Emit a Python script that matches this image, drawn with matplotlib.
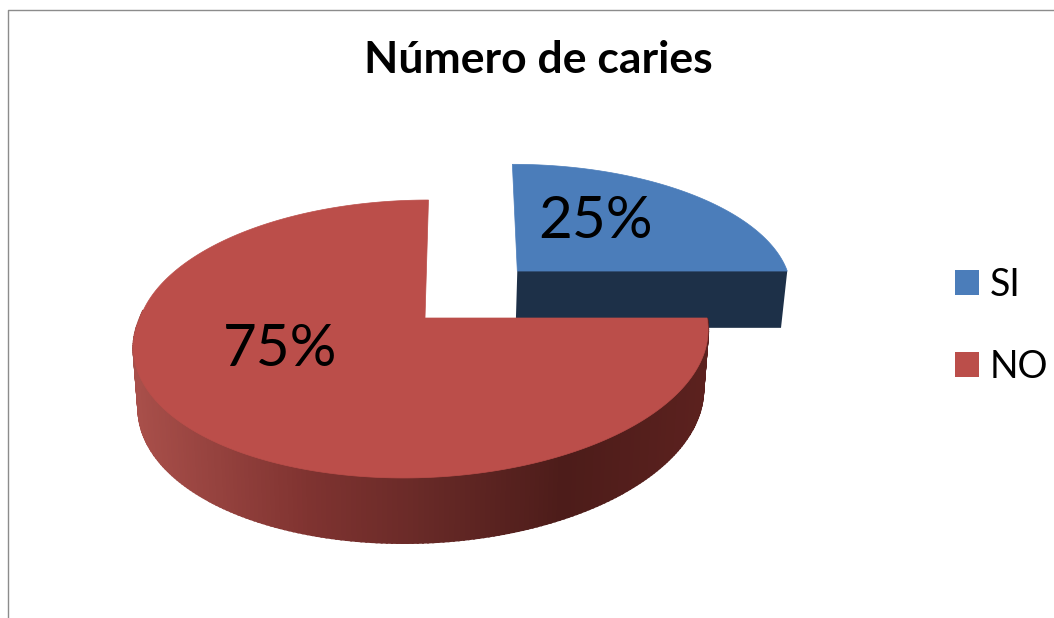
import numpy as np
import matplotlib
matplotlib.use("Agg")
import matplotlib.pyplot as plt
from matplotlib.patches import Polygon, Patch
from matplotlib.lines import Line2D

title = "Número de caries"
categories = ["SI", "NO"]
values = [25, 75]
labels = ["25%", "75%"]
colors_top = ["#4b7dba", "#bb4e4a"]
colors_side = ["#1d3048", "#7d322f"]

W, H = 1054, 618
plt.rcParams["font.family"] = ["Lato", "DejaVu Sans"]
fig = plt.figure(figsize=(W / 100, H / 100), dpi=100, facecolor="white")
ax = fig.add_axes([0, 0, 1, 1])
ax.set_xlim(0, W)
ax.set_ylim(H, 0)
ax.axis("off")

CX, CY, RX, RY, K = 425, 318, 282, 135.8, 0.151
SH_FRONT = 18
# explode u, explode v, width scale on the right, width scale on the left, back shear
GEOM = [(0.335, 0.365, 1.01, 1.01, 8), (0.0, 0.0, 1.0, 1.01, 4)]
BOTTOM_SHRINK = 0.983


def project(u, v, sh_back):
    w = 1 + K * v
    sh = np.where(v < 0, SH_FRONT, sh_back)
    return CX + (RX * u + sh * v) / w, CY - RY * v / w


def bottom(x, y, v):
    return 420 + (x - 420) * BOTTOM_SHRINK, y + 59 - 6 * v


def lerp(a, b, t):
    return tuple(a[i] + (b[i] - a[i]) * t for i in range(3))


RED_STOPS = [(0.0, (0.66, 0.31, 0.29)), (0.30, (0.50, 0.20, 0.19)),
             (0.52, (0.40, 0.16, 0.15)), (0.75, (0.30, 0.11, 0.10)),
             (1.0, (0.36, 0.13, 0.12))]


def red_shade(x):
    t = np.clip((x - 135) / (707 - 135), 0, 1)
    for (t0, c0), (t1, c1) in zip(RED_STOPS, RED_STOPS[1:]):
        if t <= t1:
            return lerp(c0, c1, (t - t0) / (t1 - t0))
    return RED_STOPS[-1][1]


fractions = np.array(values) / sum(values)
starts = np.concatenate([[0], np.cumsum(fractions)[:-1]]) * 2 * np.pi
for i in range(len(values)):
    th = np.linspace(starts[i], starts[i] + fractions[i] * 2 * np.pi, 300)
    du, dv, su_r, su_l, sb = GEOM[i]
    s = np.sin(th)
    uu, vv = np.where(s < 0, su_l, su_r) * s + du, np.cos(th) + dv
    xs, ys = project(uu, vv, sb)
    ax_, ay_ = project(np.array(du), np.array(dv), sb)
    if i == 0:
        bx1, by1 = bottom(xs[-1], ys[-1], vv[-1])
        bx0, by0 = bottom(ax_, ay_, dv)
        quad = [(ax_, ay_), (xs[-1], ys[-1]), (bx1, by1), (bx0, by0)]
        ax.add_patch(Polygon(quad, fc=colors_side[0], ec="none", zorder=1))
    else:
        bxs, bys = bottom(xs, ys, vv)
        for j in range(len(th) - 1):
            if vv[j] > 0.05:
                continue
            quad = [(xs[j], ys[j]), (xs[j + 1], ys[j + 1]),
                    (bxs[j + 1], bys[j + 1]), (bxs[j], bys[j])]
            c = red_shade((xs[j] + xs[j + 1]) / 2)
            ax.add_patch(Polygon(quad, fc=c, ec=c, lw=1.5, zorder=2))
    ax.add_patch(Polygon(np.c_[np.r_[ax_, xs], np.r_[ay_, ys]], closed=True,
                         fc=colors_top[i], ec=colors_top[i], lw=0.5,
                         zorder=1.5 if i == 0 else 3))

for lab, px, py in zip(labels, (596, 280), (222, 350)):
    ax.text(px, py, lab, fontsize=42, color="black",
            ha="center", va="center", zorder=5)
ax.text(538, 60, title, fontsize=32, fontweight="bold", color="black",
        ha="center", va="center")

handles = [Patch(fc=c, ec="none") for c in colors_top]
ax.legend(handles, categories, loc="center left", bbox_to_anchor=(955 / W, 1 - 326 / H),
          frameon=False, handlelength=0.64, handleheight=0.64,
          handletextpad=0.29, labelspacing=1.23, borderpad=0, borderaxespad=0,
          prop={"family": ["Lato"], "size": 27})

ax.add_line(Line2D([8, 8, W], [H, 10, 10], color="#8c8c8c", lw=1.0))
fig.savefig("out.png", dpi=100, facecolor="white")
